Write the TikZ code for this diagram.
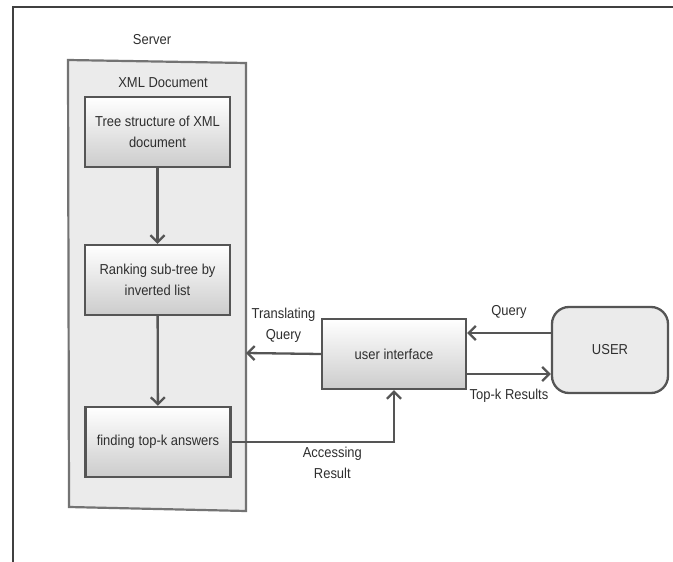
\documentclass[tikz,border=0pt]{standalone}
\usepackage{tikz}
\usepackage{xcolor}
\usepackage{fontspec}
\setmainfont{Liberation Sans}[FakeStretch=0.9]
\usetikzlibrary{arrows.meta}

\definecolor{linegray}{HTML}{555555}
\definecolor{textgray}{HTML}{2E2E2E}
\definecolor{panelgray}{HTML}{EBEBEB}

\tikzset{
	every node/.style={text=textgray,font={\fontsize{14.4}{21}\selectfont},align=center},
	procbox/.style={draw=linegray,line width=2.3pt,top color=white,bottom color=black!20,minimum width=145pt,minimum height=70pt,inner sep=2pt},
	userbox/.style={draw=linegray,line width=2.3pt,fill=black!8,rounded corners=17pt,minimum width=116pt,minimum height=86pt},
	flow/.style={draw=linegray,line width=2.3pt,-{Straight Barb[length=7pt,width=14pt,line width=2.3pt]}}
}

\begin{document}
\begin{tikzpicture}[x=1pt,y=-1pt]
			\useasboundingbox (0,0) rectangle (673,562);
			\draw[line width=2.4pt,black!75] (13,562) -- (13,7) -- (673,7);
			\filldraw[fill=panelgray,draw=black!55,line width=2.2pt] (68,60) -- (246,63) -- (246,511) -- (69,507) -- cycle;
			\coordinate (srvedge) at (246,353);
			\coordinate (qline) at (0,333);
			\coordinate (rline) at (0,374);
			\node (server) at (152,40) {Server};
			\node (xmldoc) at (163,83) {XML Document};
			\node[procbox] (tree) at (157.5,132) {Tree structure of XML\\document};
			\node[procbox] (rank) at (157.5,280) {Ranking sub-tree by\\inverted list};
			\node[procbox] (topk) at (158,442) {finding top-k answers};
			\node[procbox,minimum width=144pt] (ui) at (394,354) {user interface};
			\node[userbox] (user) at (610,350) {USER};
			\draw[flow] (tree) -- (rank);
			\draw[flow] (rank) -- (topk);
			\draw[flow] (ui.west) -- (srvedge) node[midway,above=7pt] {Translating\\Query};
			\draw[flow] (user.west |- qline) -- (ui.east |- qline) node[midway,above=10pt] {Query};
			\draw[flow] (ui.east |- rline) -- (user.west |- rline) node[midway,below=11pt] {Top-k Results};
			\draw[flow] (topk.east) -| (ui.south) node[pos=0.31,below=1pt] {Accessing\\Result};
		\end{tikzpicture}
\end{document}
